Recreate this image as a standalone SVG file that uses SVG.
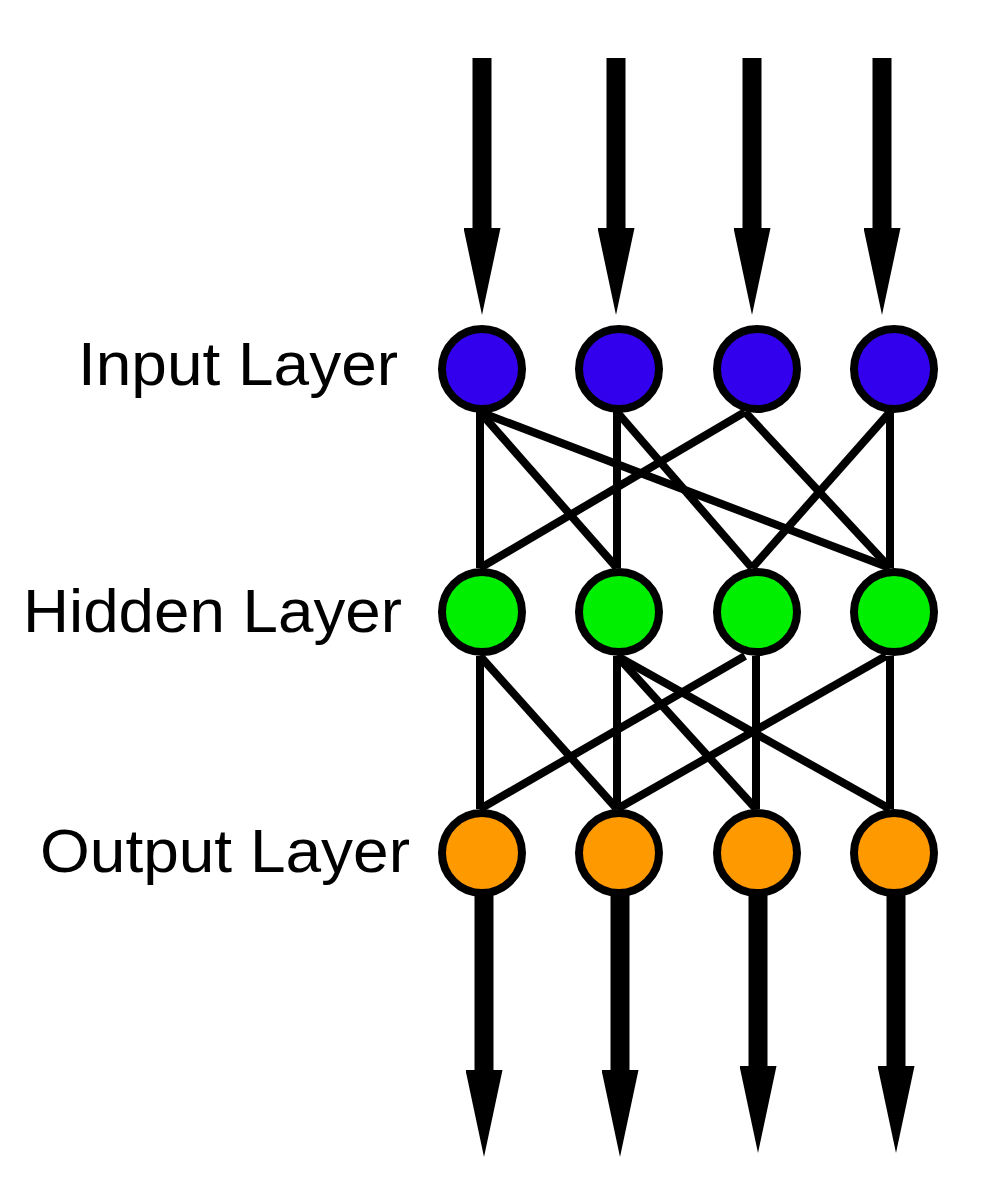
<svg xmlns="http://www.w3.org/2000/svg" width="996" height="1189" viewBox="0 0 996 1189">
  <style>
    .lbl { font-family: "Liberation Sans", Arial, sans-serif; font-size: 62px; fill: #000; }
    .edge { stroke: #000; stroke-width: 8; stroke-linecap: butt; fill: none; }
    .io { stroke: #000; stroke-width: 19; fill: none; }
    .node { stroke: #000; stroke-width: 8; }
    .in { fill: #3300EE; }
    .hid { fill: #00EE00; }
    .out { fill: #FF9900; }
  </style>
  <defs>
    <marker id="head" markerUnits="userSpaceOnUse" viewBox="0 0 87 37" refX="0" refY="18.5" markerWidth="87" markerHeight="37" orient="auto">
      <path d="M0,0 L87,18.5 L0,37 Z" fill="#000"/>
    </marker>
  </defs>
  <rect width="996" height="1189" fill="#fff"/>

  <g id="connectors">
    <!-- input arrows -->
    <line class="io" x1="482" y1="58" x2="482" y2="228" marker-end="url(#head)"/>
    <line class="io" x1="616" y1="58" x2="616" y2="228" marker-end="url(#head)"/>
    <line class="io" x1="752" y1="58" x2="752" y2="228" marker-end="url(#head)"/>
    <line class="io" x1="882" y1="58" x2="882" y2="228" marker-end="url(#head)"/>
    <!-- input to hidden -->
    <line class="edge" x1="480" y1="412" x2="480" y2="568"/>
    <line class="edge" x1="480" y1="412" x2="617" y2="568"/>
    <line class="edge" x1="480" y1="412" x2="890" y2="568"/>
    <line class="edge" x1="617" y1="412" x2="617" y2="568"/>
    <line class="edge" x1="617" y1="412" x2="752" y2="568"/>
    <line class="edge" x1="745" y1="412" x2="480" y2="568"/>
    <line class="edge" x1="745" y1="412" x2="890" y2="568"/>
    <line class="edge" x1="890" y1="412" x2="752" y2="568"/>
    <line class="edge" x1="890" y1="412" x2="890" y2="568"/>
    <!-- hidden to output -->
    <line class="edge" x1="480" y1="656" x2="480" y2="809"/>
    <line class="edge" x1="480" y1="656" x2="617" y2="809"/>
    <line class="edge" x1="617" y1="656" x2="617" y2="809"/>
    <line class="edge" x1="617" y1="656" x2="756" y2="809"/>
    <line class="edge" x1="617" y1="656" x2="890" y2="809"/>
    <line class="edge" x1="745" y1="656" x2="480" y2="809"/>
    <line class="edge" x1="756" y1="656" x2="756" y2="809"/>
    <line class="edge" x1="886" y1="656" x2="617" y2="809"/>
    <line class="edge" x1="890" y1="656" x2="890" y2="809"/>
    <!-- output arrows -->
    <line class="io" x1="484" y1="890" x2="484" y2="1070" marker-end="url(#head)"/>
    <line class="io" x1="620" y1="890" x2="620" y2="1070" marker-end="url(#head)"/>
    <line class="io" x1="758" y1="890" x2="758" y2="1066" marker-end="url(#head)"/>
    <line class="io" x1="896" y1="890" x2="896" y2="1066" marker-end="url(#head)"/>
  </g>

  <g id="input-layer">
    <text class="lbl" x="78" y="385" textLength="320" lengthAdjust="spacingAndGlyphs">Input Layer</text>
    <circle id="in1" class="node in" cx="482" cy="369" r="40"/>
    <circle id="in2" class="node in" cx="619" cy="369" r="40"/>
    <circle id="in3" class="node in" cx="757" cy="369" r="40"/>
    <circle id="in4" class="node in" cx="894" cy="369" r="40"/>
  </g>
  <g id="hidden-layer">
    <text class="lbl" x="23" y="632" textLength="379" lengthAdjust="spacingAndGlyphs">Hidden Layer</text>
    <circle id="h1" class="node hid" cx="482" cy="612" r="40"/>
    <circle id="h2" class="node hid" cx="619" cy="612" r="40"/>
    <circle id="h3" class="node hid" cx="757" cy="612" r="40"/>
    <circle id="h4" class="node hid" cx="894" cy="612" r="40"/>
  </g>
  <g id="output-layer">
    <text class="lbl" x="40" y="872" textLength="370" lengthAdjust="spacingAndGlyphs">Output Layer</text>
    <circle id="o1" class="node out" cx="482" cy="853" r="40"/>
    <circle id="o2" class="node out" cx="619" cy="853" r="40"/>
    <circle id="o3" class="node out" cx="757" cy="853" r="40"/>
    <circle id="o4" class="node out" cx="894" cy="853" r="40"/>
  </g>
</svg>
